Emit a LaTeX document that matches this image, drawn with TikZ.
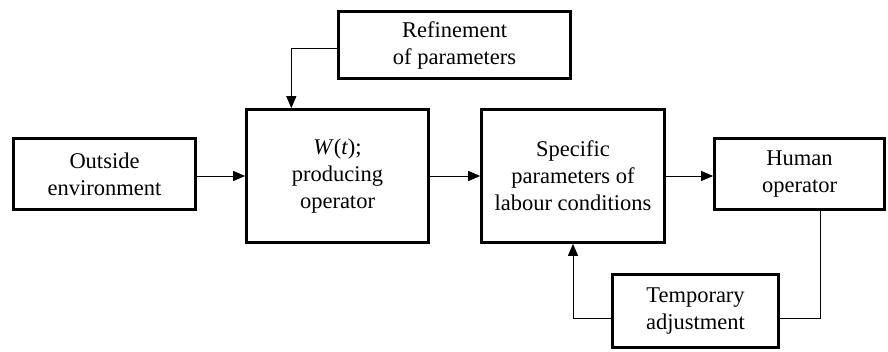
\documentclass[tikz,border=0pt]{standalone}
\usepackage{fontspec}
\setmainfont{Liberation Serif}
\usepackage{tikz}
\usetikzlibrary{arrows.meta, calc, positioning}

\begin{document}
\begin{tikzpicture}[x=1pt, y=-1pt, >={Triangle[length=12pt, width=10pt]}]
        \tikzstyle{block}=[draw, line width=2.7pt, align=center, inner sep=2pt,
            font=\rmfamily\fontsize{22.5pt}{27pt}\selectfont]
        \tikzstyle{link}=[line width=1pt]
        \useasboundingbox (0,0) rectangle (888,351);

        % Main chain
        \node[block, minimum width=182pt, minimum height=71pt] (outside) at (104.5,174) {Outside\\environment};
        \node[block, minimum width=182pt, minimum height=133pt] (producer) at (337.5,176) {\textit{W}(\textit{t});\\producing\\operator};
        \node[block, minimum width=183pt, minimum height=133pt] (specific) at (573,176) {Specific\\parameters of\\labour conditions};
        \node[block, minimum width=170pt, minimum height=71pt] (human) at (799.5,174) {Human\\operator};

        % Side blocks
        \node[block, minimum width=232pt, minimum height=67pt] (refine) at (454.5,45) {Refinement\\of parameters};
        \node[block, minimum width=166pt, minimum height=73pt] (temporary) at (695.5,311) {Temporary\\adjustment};

        % Forward arrows
        \draw[link, ->] (outside.east |- producer) -- (producer.west);
        \draw[link, ->] (producer.east) -- (specific.west);
        \draw[link, ->] (specific.east) -- (specific.east -| human.west);

        % Refinement input
        \draw[link, ->] ([yshift=-3pt]refine.west) -| ($(producer.north west)!0.25!(producer.north east)$);

        % Feedback loop
        \coordinate (tap) at ($(human.south west)!0.62!(human.south east)$);
        \draw[link] (tap) |- ([yshift=-7pt]temporary.east);
        \draw[link, ->] ([yshift=-7pt]temporary.west) -| (specific.south);
    \end{tikzpicture}
\end{document}
